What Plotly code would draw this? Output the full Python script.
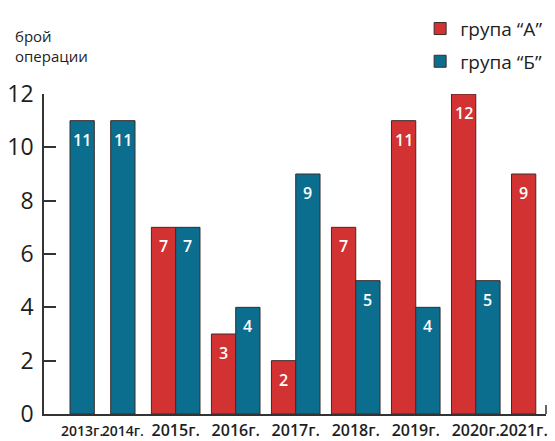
import plotly.graph_objects as go

# Number of operations per year for the two groups (None = no bar that year)
years = ["2013г.", "2014г.", "2015г.", "2016г.", "2017г.", "2018г.", "2019г.", "2020г.", "2021г."]
group_a = [None, None, 7, 3, 2, 7, 11, 12, 9]
group_b = [11, 11, 7, 4, 9, 5, 4, 5, None]
y_ticks = [0, 2, 4, 6, 8, 10, 12]

RED = "#D23232"
TEAL = "#0B6E8E"
INK = "#1E1E1E"
FONT = "Open Sans"

W, H = 555, 441
ML, MR, MT, MB = 44, 9, 94, 27
PW, PH = W - ML - MR, H - MT - MB

# Lay the years out on a numeric axis: each present bar takes one unit,
# years with a single bar take less room than years with a pair.
GAP_AFTER_SINGLE = 0.675
GAP_AFTER_PAIR = 0.47
pos = 0.0
centers, xa, ya, xb, yb = [], [], [], [], []
for a, b in zip(group_a, group_b):
    present = [(s, v) for s, v in (("a", a), ("b", b)) if v is not None]
    for i, (s, v) in enumerate(present):
        x = pos + i + 0.5
        if s == "a":
            xa.append(x); ya.append(v)
        else:
            xb.append(x); yb.append(v)
    centers.append(pos + len(present) / 2)
    pos += len(present) + (GAP_AFTER_SINGLE if len(present) == 1 else GAP_AFTER_PAIR)

outline = dict(color="#3A2C2C", width=1)
fig = go.Figure()
fig.add_trace(go.Bar(x=xa, y=ya, width=1, name="група “А”", legendgroup="a",
                     marker=dict(color=RED, line=outline), hoverinfo="skip"))
fig.add_trace(go.Bar(x=xb, y=yb, width=1, name="група “Б”", legendgroup="b",
                     marker=dict(color=TEAL, line=outline), hoverinfo="skip"))

# Value labels near the top of each bar
for xs, ys in ((xa, ya), (xb, yb)):
    for x, v in zip(xs, ys):
        fig.add_annotation(x=x, y=v, text=str(v), showarrow=False, yshift=-19,
                           yanchor="middle",
                           font=dict(family=FONT, size=16, color="white", weight=600))

# Axis title in the top-left corner
fig.add_annotation(xref="paper", yref="paper", x=(13 - ML) / PW, y=(H - MB - 24) / PH,
                   xanchor="left", yanchor="top", align="left", showarrow=False,
                   text="брой<br>операции", font=dict(size=15, color=INK, weight=500))

# Smaller labels for the single-bar years at the start
tick_text = []
for yr in years:
    if yr in ("2013г.", "2014г."):
        tick_text.append(f'<span style="font-size:14px">{yr}</span>')
    else:
        tick_text.append(yr)

fig.update_layout(
    width=W, height=H,
    margin=dict(l=ML, r=MR, t=MT, b=MB, autoexpand=False),
    paper_bgcolor="white", plot_bgcolor="white",
    barmode="overlay",
    font=dict(family=FONT, color=INK),
    showlegend=True,
    legend=dict(xref="container", yref="container", x=0.757, y=0.978,
                xanchor="left", yanchor="top", traceorder="grouped",
                tracegroupgap=5, font=dict(size=19, color=INK, weight=500),
                bgcolor="rgba(0,0,0,0)"),
    xaxis=dict(range=[-1.07, 19.59], tickvals=centers, ticktext=tick_text,
               showline=True, linecolor="#333333", linewidth=1.5,
               showgrid=False, zeroline=False, ticks="", tickangle=0,
               tickfont=dict(size=16, color=INK, weight=600),
               ticklabelstandoff=1, fixedrange=True),
    yaxis=dict(range=[0, 12], tickvals=y_ticks, showline=True,
               linecolor="#333333", linewidth=1.5, showgrid=False,
               zeroline=False, ticks="inside", ticklen=12, tickwidth=1.5,
               tickcolor="#333333", tickfont=dict(size=23, color=INK, weight=500),
               ticklabelstandoff=4, fixedrange=True),
    shapes=[dict(type="line", xref="paper", yref="paper", x0=1, x1=1,
                 y0=0, y1=9 / PH, line=dict(color="#333333", width=1.5))],
)

fig.write_html("out.html")
